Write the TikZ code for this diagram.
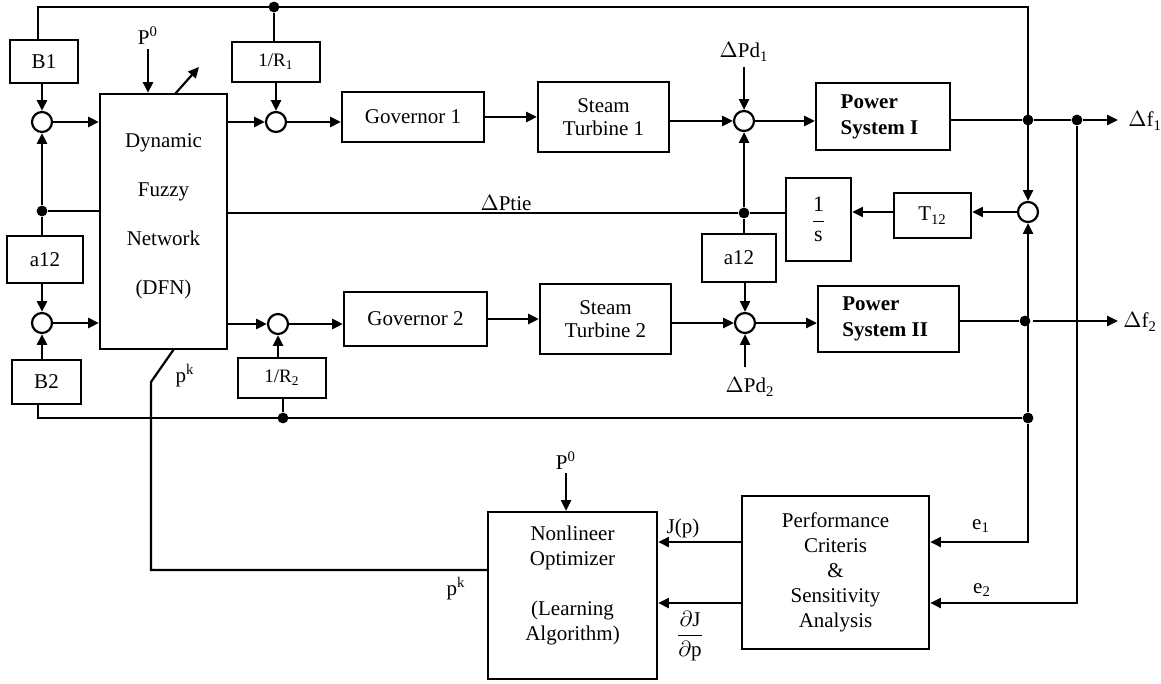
\documentclass[tikz,border=0pt]{standalone}
\usepackage{fontspec}
\setmainfont{Liberation Serif}
\usepackage{amsmath}
\usetikzlibrary{arrows.meta,calc}
\begin{document}
\begin{tikzpicture}[x=0.5pt,y=-0.5pt,
  fnt/.style={font=\fontsize{10.5}{12.5}\selectfont},
  every node/.style={fnt},
  box/.style={draw, line width=1.1pt, inner sep=0pt, align=center},
  sumc/.style={draw, circle, line width=1.1pt, minimum size=10pt, inner sep=0pt},
  dot/.style={circle, fill, minimum size=5.4pt, inner sep=0pt},
  ln/.style={line width=1.1pt},
  arr/.style={line width=1.1pt, -{Triangle[length=5.4pt,width=5pt]}},
  lbl/.style={inner sep=0pt}]
\useasboundingbox (0,0) rectangle (1161,684);

% blocks
\node[box, minimum width=34pt, minimum height=21.5pt] (b1) at (44,61.5) {B1};
\node[box, minimum width=38pt, minimum height=23.5pt] (a12l) at (45,259.5) {a12};
\node[box, minimum width=34.5pt, minimum height=22pt] (b2) at (46.5,382) {B2};
\node[box, minimum width=63.5pt, minimum height=127.5pt, font={\fontsize{10.5}{24.5}\selectfont}] (dfn) at (163.5,221.5) {Dynamic\\Fuzzy\\Network\\(DFN)\\[-17.2pt]\mbox{}};
\node[box, minimum width=44pt, minimum height=20pt, font={\fontsize{9.5}{11}\selectfont}] (r1) at (276,62) {1/R\textsubscript{1}};
\node[box, minimum width=44pt, minimum height=20pt, font={\fontsize{9.5}{11}\selectfont}] (r2) at (282,378) {1/R\textsubscript{2}};
\node[box, minimum width=71pt, minimum height=25pt] (gov1) at (413,117) {Governor 1};
\node[box, minimum width=71.5pt, minimum height=27pt] (gov2) at (415.5,319) {Governor 2};
\node[box, minimum width=65.5pt, minimum height=35pt, font={\fontsize{10.5}{11.5}\selectfont}] (st1) at (603.5,117) {Steam\\Turbine 1};
\node[box, minimum width=65.5pt, minimum height=35pt, font={\fontsize{10.5}{11.5}\selectfont}] (st2) at (605.5,319) {Steam\\Turbine 2};
\node[box, minimum width=67pt, minimum height=33.5pt, align=left, font={\fontsize{10.5}{13}\selectfont\bfseries}] (ps1) at (883,116.5) {Power\\System I\hspace*{3.5pt}};
\node[box, minimum width=70.5pt, minimum height=33pt, align=left, font={\fontsize{10.5}{13}\selectfont\bfseries}] (ps2) at (888.5,319) {Power\\System II\hspace*{3.3pt}};
\node[box, minimum width=37pt, minimum height=24pt] (a12r) at (739,258) {a12};
\node[box, minimum width=32.5pt, minimum height=41.5pt, font={\fontsize{11}{13}\selectfont}] (ints) at (818.5,219.5) {$\dfrac{\text{1}}{\text{s}}$};
\node[box, minimum width=38.5pt, minimum height=22.5pt] (t12) at (932.5,215.5) {T\textsubscript{12}};
\node[box, minimum width=84.5pt, minimum height=83.5pt] (no) at (572.5,595.5) {Nonlineer\\Optimizer\\[12.5pt](Learning\\Algorithm)\\[-0.2pt]\mbox{}};
\node[box, minimum width=93.5pt, minimum height=76.5pt] (pc) at (835.5,572.5) {Performance\\Criteris\\\&\\Sensitivity\\Analysis};

% summing junctions
\node[sumc] (s1) at (42,122) {};
\node[sumc] (s2) at (42,323) {};
\node[sumc] (s3) at (276,122) {};
\node[sumc] (s4) at (278,324) {};
\node[sumc] (s5) at (744,121) {};
\node[sumc] (s6) at (745,323) {};
\node[sumc] (s7) at (1028,212) {};

% junction dots
\node[dot] (d1) at (274,7) {};
\node[dot] (d2) at (1028,120) {};
\node[dot] (d3) at (1077,120) {};
\node[dot] (d4) at (42,211) {};
\node[dot] (d5) at (744,213) {};
\node[dot] (d6) at (1025,321) {};
\node[dot] (d7) at (283,418) {};
\node[dot] (d8) at (1028,418) {};

% helper coordinates
\coordinate (tl) at (38,7);
\coordinate (tr) at (1028,7);
\coordinate (bl) at (38,418);
\coordinate (pkd) at (174,349);
\coordinate (pk1) at (151,382);
\coordinate (pk2) at (151,570);
\coordinate (ce1) at (1028,542);
\coordinate (ce2) at (1077,603);
\coordinate (out1) at (1118,120);
\coordinate (out2a) at (1033,321);
\coordinate (out2) at (1118,321);
\coordinate (p0a) at (148,49);
\coordinate (p0b) at (566,473);
\coordinate (pd1) at (744,67);
\coordinate (pd2) at (745,367);
\coordinate (adjA) at (175,94);
\coordinate (adjB) at (199,67);

% labels
\node[lbl] (lp0a) at (148,36) {P\textsuperscript{0}};
\node[lbl] (lp0b) at (566,461) {P\textsuperscript{0}};
\node[lbl] (lpd1) at (744,52) {$\Delta$Pd\textsubscript{1}};
\node[lbl] (lpd2) at (750,387) {$\Delta$Pd\textsubscript{2}};
\node[lbl] (lptie) at (506,203) {$\Delta$Ptie};
\node[lbl, anchor=west] (lf1) at (1128,121) {$\Delta$f\textsubscript{1}};
\node[lbl, anchor=west] (lf2) at (1123,322) {$\Delta$f\textsubscript{2}};
\node[lbl] (lpk1) at (185,376) {p\textsuperscript{k}};
\node[lbl] (lpk2) at (456,589) {p\textsuperscript{k}};
\node[lbl] (le1) at (981,526) {e\textsubscript{1}};
\node[lbl] (le2) at (982,590) {e\textsubscript{2}};
\node[lbl] (ljp) at (683,528) {J(p)};
\node[lbl] (ldj) at (690,636) {$\dfrac{\partial\text{J}}{\partial\text{p}}$};

% top feedback line
\draw[arr] (b1.north -| tl) -- (tl) -- (tr) -- (s7.north);
\draw[ln] (d1) -- (r1.north -| d1);
\draw[arr] (r1) -- (s3);
% left column
\draw[arr] (b1.south -| s1) -- (s1.north);
\draw[arr] (s1) -- (s1 -| dfn.west);
\draw[arr] (d4) -- (s1.south);
\draw[ln] (d4) -- (a12l.north -| d4);
\draw[ln] (d4) -- (d4 -| dfn.west);
\draw[arr] (a12l.south -| s2) -- (s2.north);
\draw[arr] (b2.north -| s2) -- (s2.south);
\draw[arr] (s2) -- (s2 -| dfn.west);
% DFN inputs
\draw[arr] (p0a) -- (p0a |- dfn.north);
\draw[arr] (adjA) -- (adjB);
% area 1 chain
\draw[arr] (dfn.east |- s3) -- (s3.west);
\draw[arr] (s3) -- (s3 -| gov1.west);
\draw[arr] (gov1.east) -- (st1.west);
\draw[arr] (st1.east |- s5) -- (s5.west);
\draw[arr] (pd1) -- (s5.north);
\draw[arr] (s5) -- (s5 -| ps1.west);
\draw[ln] (ps1.east |- d2) -- (d2) -- (d3);
\draw[arr] (d3) -- (out1);
% tie line
\draw[arr] (s7) -- (s7 -| t12.east);
\draw[arr] (t12.west |- s7) -- (ints.east |- s7);
\draw[ln] (ints.west |- d5) -- (d5) -- (d5 -| dfn.east);
\draw[arr] (d5) -- (s5.south);
\draw[ln] (d5) -- (a12r.north -| d5);
\draw[arr] (a12r.south -| s6) -- (s6.north);
% area 2 chain
\draw[arr] (dfn.east |- s4) -- (s4.west);
\draw[arr] (r2.north -| s4) -- (s4.south);
\draw[ln] (d7) -- (r2.south -| d7);
\draw[arr] (s4) -- (s4 -| gov2.west);
\draw[arr] (gov2.east) -- (st2.west);
\draw[arr] (st2.east |- s6) -- (s6.west);
\draw[arr] (pd2) -- (s6.south);
\draw[arr] (s6) -- (s6 -| ps2.west);
\draw[ln] (ps2.east |- d6) -- (d6);
\draw[arr] (out2a) -- (out2);
% bottom feedback line
\draw[ln] (b2.south -| bl) -- (bl) -- (d8);
% error signals
\draw[arr] (d8) -- (s7.south);
\draw[arr] (d8) -- (ce1) -- (ce1 -| pc.east);
\draw[arr] (d3) -- (ce2) -- (ce2 -| pc.east);
% optimizer
\draw[arr] (pc.west |- ce1) -- (no.east |- ce1);
\draw[arr] (pc.west |- ce2) -- (no.east |- ce2);
\draw[arr] (p0b) -- (p0b |- no.north);
\draw[ln] (pkd) -- (pk1) -- (pk2) -- (pk2 -| no.west);
\end{tikzpicture}
\end{document}
